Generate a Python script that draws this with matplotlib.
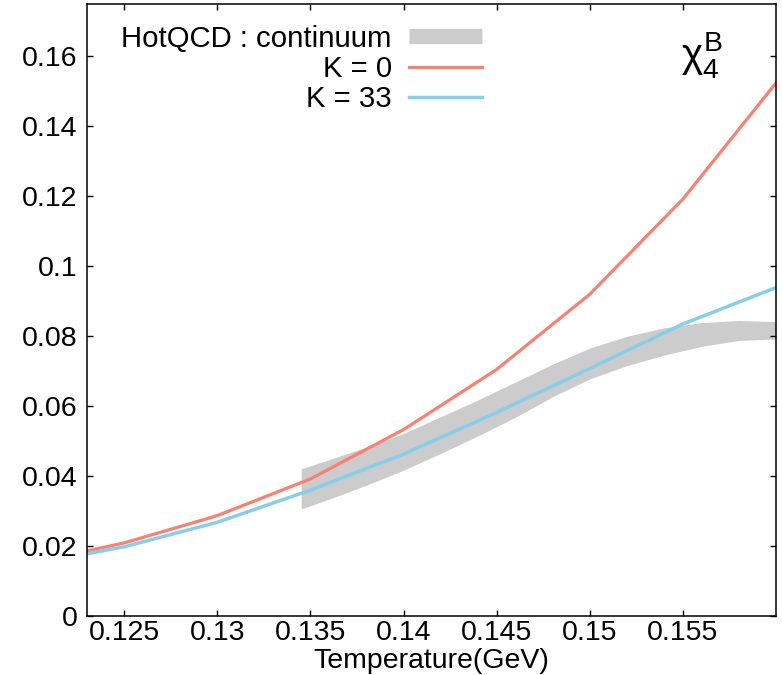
import matplotlib
matplotlib.use("Agg")
import matplotlib.pyplot as plt
from matplotlib.lines import Line2D
from matplotlib.ticker import FuncFormatter

plt.rcParams['font.family'] = ['Liberation Sans', 'DejaVu Sans']
plt.rcParams['mathtext.fontset'] = 'custom'
plt.rcParams['mathtext.rm'] = 'Liberation Sans'
plt.rcParams['mathtext.it'] = 'Liberation Sans'

# model curves (temperature in GeV)
T = [0.123, 0.125, 0.13, 0.135, 0.14, 0.145, 0.15, 0.155, 0.16]
chi4_K0 = [0.0186, 0.0209, 0.0287, 0.0392, 0.0533, 0.0705, 0.0920, 0.1192, 0.1524]
chi4_K33 = [0.0178, 0.0198, 0.0268, 0.0360, 0.0463, 0.0582, 0.0708, 0.0835, 0.0939]

# HotQCD continuum band
T_lat = [0.1345, 0.136, 0.138, 0.14, 0.142, 0.144, 0.146, 0.148, 0.15,
         0.152, 0.154, 0.156, 0.158, 0.16]
lat_hi = [0.0421, 0.0447, 0.0483, 0.0522, 0.0570, 0.0618, 0.0669, 0.0720, 0.0766,
          0.0800, 0.0824, 0.0839, 0.0845, 0.0842]
lat_lo = [0.0306, 0.0334, 0.0374, 0.0417, 0.0465, 0.0515, 0.0568, 0.0627, 0.0678,
          0.0716, 0.0746, 0.0771, 0.0788, 0.0792]

xticks = [0.125, 0.13, 0.135, 0.14, 0.145, 0.15, 0.155]
yticks = [0, 0.02, 0.04, 0.06, 0.08, 0.1, 0.12, 0.14, 0.16]

fig = plt.figure(figsize=(7.82, 6.75), dpi=100)
ax = fig.add_axes([0.1113, 0.0874, 0.8810, 0.9067])

gray = '#cccccc'
red = '#fa8072'
blue = '#87ceeb'

ax.fill_between(T_lat, lat_lo, lat_hi, color=gray, lw=0)
ax.plot(T, chi4_K0, color=red, lw=2.3)
ax.plot(T, chi4_K33, color=blue, lw=2.5)

ax.set_xlim(0.123, 0.16)
ax.set_ylim(0, 0.175)
ax.set_xticks(xticks)
ax.set_yticks(yticks)
fmt = FuncFormatter(lambda v, p: '%g' % v)
ax.xaxis.set_major_formatter(fmt)
ax.yaxis.set_major_formatter(fmt)
ax.tick_params(direction='in', length=4.5, width=1, top=True, right=True,
               labelsize=20.5)
ax.tick_params(axis='y', pad=7)
ax.tick_params(axis='x', pad=3)
for s in ax.spines.values():
    s.set_linewidth(1.1)

ax.set_xlabel('Temperature(GeV)', fontsize=20.5, labelpad=1)

ax.text(0.15605, 0.1605, r'$\chi_4^B$', fontsize=29, ha='center', va='center')

handles = [Line2D([], [], color=gray, lw=11, solid_capstyle='butt'),
           Line2D([], [], color=red, lw=2.3),
           Line2D([], [], color=blue, lw=2.5)]
labels = ['HotQCD : continuum', 'K = 0', 'K = 33']
ax.legend(handles, labels, loc='upper left', bbox_to_anchor=(0.02, 1.0),
          frameon=False, markerfirst=False, fontsize=21.2,
          handlelength=2.45, handletextpad=0.6, labelspacing=0.08,
          borderaxespad=0.3)

fig.savefig('out.png', dpi=100)
